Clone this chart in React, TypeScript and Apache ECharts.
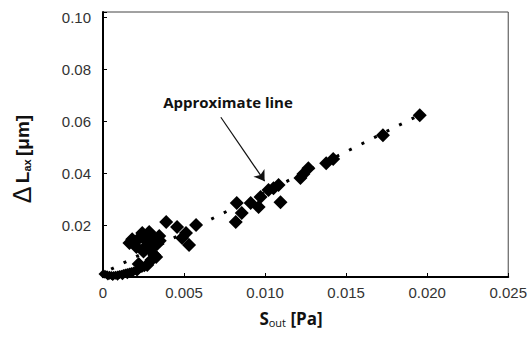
import React, { useEffect, useRef } from "react";
import * as echarts from "echarts";

// Small markers of the dense cluster near the origin  [S_out (Pa), ΔL_ax (µm)]
const clusterPoints: number[][] = [
  [0.0, 0.0012], [0.00012, 0.0011], [0.00025, 0.0009], [0.0004, 0.0007],
  [0.00052, 0.0006], [0.00065, 0.0006], [0.00077, 0.0007], [0.0009, 0.0008],
  [0.00101, 0.001], [0.00113, 0.0011], [0.00126, 0.0013], [0.00138, 0.0015],
  [0.0015, 0.0017], [0.00163, 0.0019], [0.00175, 0.0021], [0.00188, 0.0023],
  [0.002, 0.0025], [0.00212, 0.0027], [0.00224, 0.003], [0.0024, 0.0033],
  [0.00255, 0.0036], [0.0006, 0.0002], [0.0009, 0.0003], [0.0012, 0.0005],
  [0.0003, 0.0004], [0.0015, 0.0009], [0.0018, 0.0014], [0.0021, 0.0019],
];

// Large diamond markers  [S_out (Pa), ΔL_ax (µm)]
const mainPoints: number[][] = [
  [0.00163, 0.0131], [0.00193, 0.0135], [0.00206, 0.0115], [0.00242, 0.0169],
  [0.00285, 0.0173], [0.00224, 0.015], [0.00273, 0.0123], [0.00273, 0.0135],
  [0.00316, 0.0142], [0.00334, 0.0127], [0.00347, 0.0158], [0.00328, 0.0077],
  [0.00316, 0.0085], [0.00273, 0.0046], [0.00298, 0.0065], [0.0022, 0.005],
  [0.0018, 0.0145], [0.0026, 0.015], [0.0031, 0.0155], [0.0029, 0.0105],
  [0.0025, 0.0098], [0.0035, 0.014],
  [0.0039, 0.0212], [0.00457, 0.0192], [0.00512, 0.0169], [0.00574, 0.02],
  [0.00531, 0.0123], [0.00488, 0.015], [0.00819, 0.0212], [0.00825, 0.0285],
  [0.00856, 0.0246], [0.00911, 0.0285], [0.0096, 0.0269], [0.00972, 0.0308],
  [0.01021, 0.0335], [0.01052, 0.0342], [0.01083, 0.0354], [0.01095, 0.0288],
  [0.01218, 0.0381], [0.01236, 0.0396], [0.01267, 0.0419], [0.01377, 0.0438],
  [0.0142, 0.0454], [0.01727, 0.0546], [0.01954, 0.0623],
];

// Dotted approximate (fit) line end points
const fitLine: number[][] = [
  [0.0005, 0.003],
  [0.0197, 0.0629],
];

// Annotation arrow (data coordinates)
const arrowFrom: number[] = [0.00727, 0.0615];
const arrowTo: number[] = [0.00997, 0.0369];

const xTicks = { min: 0, max: 0.025, interval: 0.005 };
const yTicks = { min: 0, max: 0.102, interval: 0.02 };

export default function App() {
  const ref = useRef<HTMLDivElement>(null);

  useEffect(() => {
    if (!ref.current) return;
    const chart = echarts.init(ref.current, null, { renderer: "svg" });
    const tickFont = {
      fontFamily: "Liberation Sans, Arial, sans-serif",
      fontSize: 15,
      color: "#333",
    };
    chart.setOption({
      animation: false,
      backgroundColor: "#fff",
      grid: {
        left: 103,
        right: 20,
        top: 12,
        bottom: 72,
        show: true,
        borderColor: "#444",
        borderWidth: 1,
        backgroundColor: "transparent",
      },
      xAxis: {
        type: "value",
        min: xTicks.min,
        max: xTicks.max,
        interval: xTicks.interval,
        splitLine: { show: false },
        axisLine: { show: true, onZero: false, lineStyle: { color: "#000", width: 2 } },
        axisTick: { show: true, inside: true, length: 4, lineStyle: { color: "#000" } },
        axisLabel: {
          ...tickFont,
          margin: 8,
          formatter: (v: number) => (v === 0 ? "0" : v.toFixed(3)),
        },
      },
      yAxis: {
        type: "value",
        min: yTicks.min,
        max: yTicks.max,
        interval: yTicks.interval,
        splitLine: { show: false },
        axisLine: { show: true, onZero: false, lineStyle: { color: "#000", width: 2 } },
        axisTick: { show: true, inside: true, length: 4, lineStyle: { color: "#000" } },
        axisLabel: {
          ...tickFont,
          margin: 12,
          formatter: (v: number) => {
            const k = v / 0.02;
            if (v <= 0 || Math.abs(k - Math.round(k)) > 1e-6) return "";
            return v.toFixed(2);
          },
        },
      },
      graphic: [
        {
          type: "text",
          x: 22,
          y: 159,
          rotation: Math.PI / 2,
          style: {
            text: "{d|Δ} {b|L}{s|ax} {b|[μm]}",
            align: "center",
            verticalAlign: "middle",
            rich: {
              d: { fontFamily: "Liberation Sans, Arial", fontSize: 25, fill: "#111" },
              b: { fontFamily: "Liberation Sans, Arial", fontSize: 19, fontWeight: "bold", fill: "#111" },
              s: { fontFamily: "Liberation Sans, Arial", fontSize: 11, fontWeight: "bold", fill: "#111", padding: [9, 0, 0, 0] },
            },
          },
        },
        {
          type: "text",
          x: 291,
          y: 318,
          style: {
            text: "{b|S}{s|out}{b| [Pa]}",
            align: "center",
            verticalAlign: "middle",
            rich: {
              b: { fontFamily: "Open Sans, Arial", fontSize: 17, fontWeight: "bold", fill: "#111" },
              s: { fontFamily: "Open Sans, Arial", fontSize: 11, fill: "#111", padding: [9, 0, 0, 0] },
            },
          },
        },
        {
          type: "text",
          x: 228,
          y: 102,
          style: {
            text: "Approximate line",
            align: "center",
            verticalAlign: "middle",
            fontFamily: "Open Sans, Arial",
            fontSize: 15,
            fontWeight: "bold",
            fill: "#111",
          },
        },
      ],
      series: [
        {
          type: "line",
          data: fitLine,
          showSymbol: false,
          symbol: "none",
          lineStyle: { color: "#000", width: 3, type: [3, 11] },
          z: 1,
          silent: true,
          markLine: {
            silent: true,
            symbol: ["none", "arrow"],
            symbolSize: 10,
            label: { show: false },
            lineStyle: { color: "#111", width: 1.2, type: "solid" },
            data: [[{ coord: arrowFrom }, { coord: arrowTo }]],
          },
        },
        {
          type: "scatter",
          data: clusterPoints,
          symbol: "diamond",
          symbolSize: 9,
          itemStyle: { color: "#000", opacity: 1 },
          z: 3,
        },
        {
          type: "scatter",
          data: mainPoints,
          symbol: "diamond",
          symbolSize: 14,
          itemStyle: { color: "#000", opacity: 1 },
          z: 3,
        },
      ],
    });
    return () => chart.dispose();
  }, []);

  return (
    <div
      ref={ref}
      style={{ position: "absolute", left: 0, top: 0, width: 530, height: 349 }}
    />
  );
}
